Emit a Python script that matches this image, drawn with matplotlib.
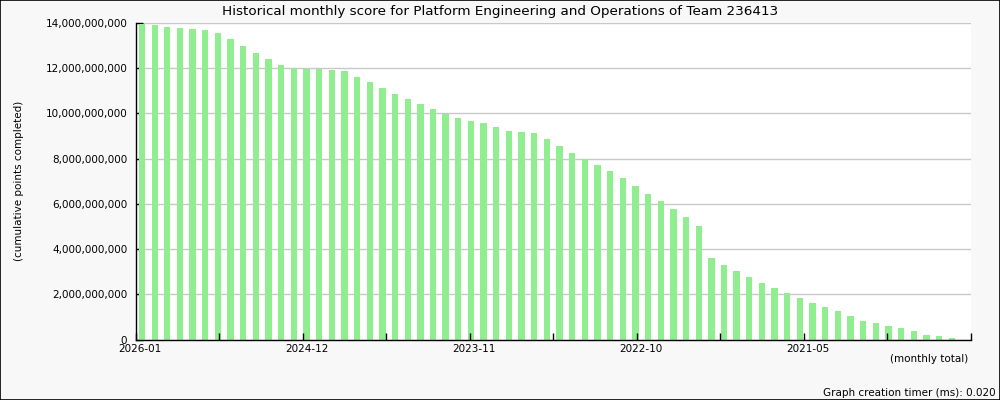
import matplotlib
matplotlib.use('Agg')
import matplotlib.pyplot as plt
import matplotlib.transforms as mtransforms
from matplotlib.ticker import FuncFormatter
import numpy as np

# monthly cumulative points, newest month first (2026-01 back to 2020-09)
months = ['2026-01', '2025-12', '2025-11', '2025-10', '2025-09', '2025-08', '2025-07',
          '2025-06', '2025-05', '2025-04', '2025-03', '2025-02', '2025-01', '2024-12',
          '2024-11', '2024-10', '2024-09', '2024-08', '2024-07', '2024-06', '2024-05',
          '2024-04', '2024-03', '2024-02', '2024-01', '2023-12', '2023-11', '2023-10',
          '2023-09', '2023-08', '2023-07', '2023-06', '2023-05', '2023-04', '2023-03',
          '2023-02', '2023-01', '2022-12', '2022-11', '2022-10', '2022-09', '2022-08',
          '2022-07', '2022-06', '2022-05', '2022-04', '2022-03', '2022-02', '2022-01',
          '2021-12', '2021-11', '2021-10', '2021-09', '2021-08', '2021-07', '2021-06',
          '2021-05', '2021-04', '2021-03', '2021-02', '2021-01', '2020-12', '2020-11',
          '2020-10', '2020-09']
points = [13.96, 13.92, 13.83, 13.78, 13.74, 13.70, 13.56, 13.30, 12.99, 12.68,
          12.41, 12.15, 12.01, 11.98, 11.98, 11.92, 11.88, 11.61, 11.39, 11.13,
          10.86, 10.64, 10.42, 10.20, 9.96, 9.80, 9.67, 9.58, 9.40, 9.22,
          9.18, 9.14, 8.87, 8.56, 8.25, 7.97, 7.72, 7.46, 7.14, 6.79,
          6.43, 6.12, 5.77, 5.42, 5.02, 3.61, 3.30, 3.03, 2.77, 2.50,
          2.28, 2.06, 1.84, 1.62, 1.44, 1.26, 1.04, 0.82, 0.73, 0.60,
          0.51, 0.38, 0.20, 0.15, 0.07]
points = [p * 1e9 for p in points]
tick_labels = ['2026-01', '2024-12', '2023-11', '2022-10', '2021-05']

plt.rcParams['font.family'] = 'DejaVu Sans'

fig = plt.figure(figsize=(10, 4), dpi=100, facecolor='#f8f8f8')
ax = fig.add_axes([0.1357, 0.15125, 0.835, 0.79125])
ax.set_facecolor('white')

x = np.arange(len(months))
ax.bar(x, points, width=0.5, color='#90ee90', zorder=2)

# y axis
ax.set_ylim(0, 14e9)
ax.set_yticks(np.arange(0, 14e9 + 1, 2e9))
ax.yaxis.set_major_formatter(FuncFormatter(lambda v, p: f'{int(v):,}'))
ax.grid(axis='y', color='#c8c8c8', linewidth=1, zorder=0)
ax.set_axisbelow(True)

# x axis: 66 slots, 10 tick intervals
ax.set_xlim(-0.5, 65.5)
ticks = np.linspace(-0.5, 65.5, 11)
ax.set_xticks(ticks[::2])
ax.set_xticklabels(tick_labels + [''])
ax.set_xticks(ticks[1::2], minor=True)
ax.xaxis.set_zorder(3)  # ticks drawn over the bars

ax.tick_params(axis='both', which='both', direction='in', length=5, width=1,
               labelsize=7.5, color='black')
ax.tick_params(axis='y', pad=6)
ax.tick_params(axis='x', pad=3)
off = mtransforms.ScaledTranslation(4 / 100, 0, fig.dpi_scale_trans)
for lab in ax.get_xticklabels():
    lab.set_transform(lab.get_transform() + off)

for s in ['top', 'right']:
    ax.spines[s].set_visible(False)
for s in ['left', 'bottom']:
    ax.spines[s].set_color('black')
    ax.spines[s].set_linewidth(1)
    ax.spines[s].set_zorder(3)

ax.set_ylabel('(cumulative points completed)', fontsize=7.5)
ax.yaxis.set_label_coords(-0.134, 0.5)

fig.text(0.5, 1 - 11 / 400,
         'Historical monthly score for Platform Engineering and Operations of Team 236413',
         fontsize=9.7, ha='center', va='center')
fig.text(0.968, 1 - 359 / 400, '(monthly total)', fontsize=7.5, ha='right', va='center')
fig.text(0.996, 1 - 393 / 400, 'Graph creation timer (ms): 0.020', fontsize=7.5,
         ha='right', va='center')

# thin frame around the whole image
fig.patches.append(plt.Rectangle((0, 0), 1, 1, transform=fig.transFigure, fill=False,
                                 edgecolor='black', linewidth=1.2))

plt.savefig('out.png', dpi=100, facecolor=fig.get_facecolor())
